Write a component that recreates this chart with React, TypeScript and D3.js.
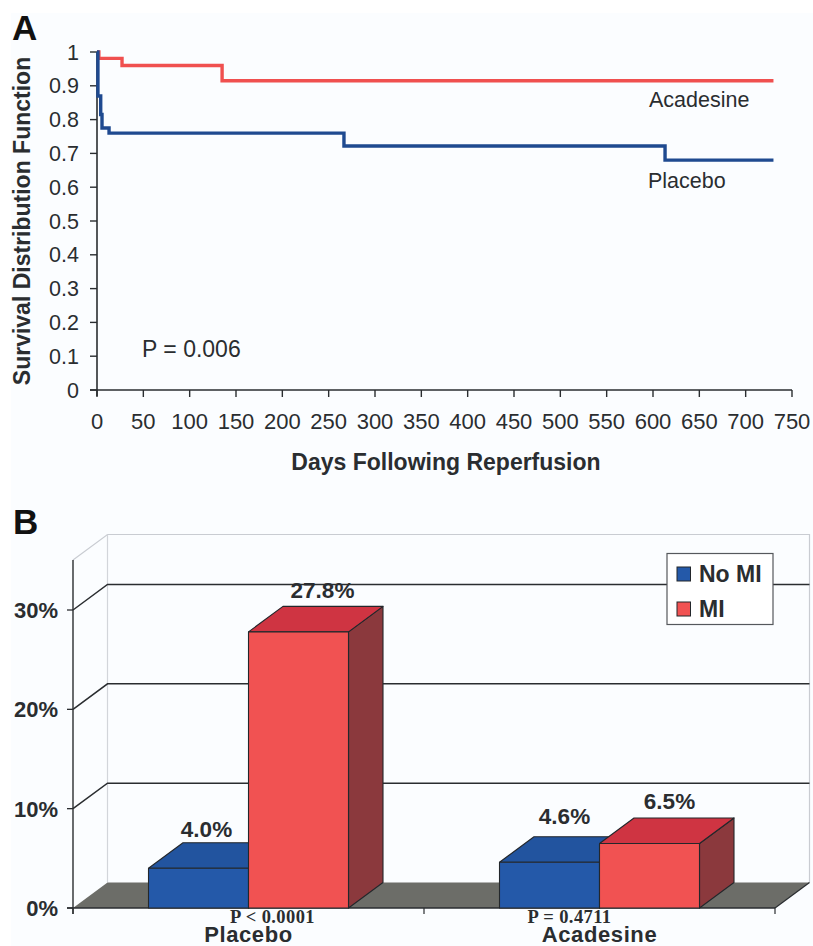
import * as d3 from 'd3'

// panel A: Kaplan-Meier steps, [day, survival]
const acadesineDays = [0, 2, 27, 135, 730]
const acadesineSurvival = [1, 0.981, 0.96, 0.915, 0.915]
const placeboDays = [0, 1, 4, 5.4, 13, 266.5, 613, 730]
const placeboSurvival = [1, 0.87, 0.815, 0.775, 0.76, 0.722, 0.68, 0.68]
const survivalTicks = [0, 0.1, 0.2, 0.3, 0.4, 0.5, 0.6, 0.7, 0.8, 0.9, 1]
const dayTicks = [0, 50, 100, 150, 200, 250, 300, 350, 400, 450, 500, 550, 600, 650, 700, 750]

// panel B: 3D bars
const groups = ['Placebo', 'Acadesine']
const seriesNames = ['No MI', 'MI']
const noMiValues = [4.0, 4.6]
const miValues = [27.8, 6.5]
const pLabels = ['P < 0.0001', 'P = 0.4711']
const percentTicks = [0, 10, 20, 30]

const SANS = '"Liberation Sans", Arial, sans-serif'
const SERIF = '"Liberation Serif", "Times New Roman", serif'
const INK = '#2a2d30'

const xA = d3.scaleLinear().domain([0, 750]).range([97, 792])
const yA = d3.scaleLinear().domain([0, 1]).range([390, 52])
const stepLine = d3
  .line<[number, number]>()
  .x(d => xA(d[0]))
  .y(d => yA(d[1]))
  .curve(d3.curveStepAfter)

const zip = (a: number[], b: number[]) => a.map((v, i) => [v, b[i]] as [number, number])

const yB = d3.scaleLinear().domain([0, 30]).range([908, 610])
const xGroup = d3.scaleBand().domain(groups).range([73, 775])
const xBar = d3
  .scaleBand()
  .domain(seriesNames)
  .range([0, xGroup.bandwidth()])
  .paddingInner(0)
  .paddingOuter(0.755)
const depthX = 34.5
const depthY = -25.5

// the labels were placed by hand in the original, so nudge them per group
const noMiNudge = [[8, -5.5], [15, -12.5]]
const miNudge = [[24, -8], [20, -8.5]]
const pNudge = [24, -30]

const palette: Record<string, { front: string; top: string; side: string }> = {
  'No MI': { front: '#2459a9', top: '#22549f', side: '#1e4688' },
  MI: { front: '#f15252', top: '#cf3442', side: '#8b393d' },
}

const poly = (pts: [number, number][]) => (d3.line()(pts) ?? '') + 'Z'

function Bar({ x, w, value, name }: { x: number; w: number; value: number; name: string }) {
  const y0 = yB(0)
  const y1 = yB(value)
  const c = palette[name]
  return (
    <g stroke="#23272b" strokeWidth={1.1} strokeLinejoin="round">
      <path
        d={poly([[x + w, y1], [x + w + depthX, y1 + depthY], [x + w + depthX, y0 + depthY], [x + w, y0]])}
        fill={c.side}
      />
      <path
        d={poly([[x, y1], [x + depthX, y1 + depthY], [x + w + depthX, y1 + depthY], [x + w, y1]])}
        fill={c.top}
      />
      <rect x={x} y={y1} width={w} height={y0 - y1} fill={c.front} />
    </g>
  )
}

export default function App() {
  const floorY = yB(0)
  const left = xGroup.range()[0]
  const right = xGroup.range()[1]
  const midTick = xGroup('Acadesine') as number
  const w = xBar.bandwidth()

  return (
    <svg
      width={813}
      height={946}
      style={{ position: 'absolute', left: 0, top: 0, display: 'block', background: '#fff' }}
    >
      <rect x={11} y={13} width={802} height={933} fill="#fbfdff" />

      {/* panel A */}
      <text x={12} y={40} fontFamily={SANS} fontWeight="bold" fontSize={35} fill="#111">A</text>
      <line x1={xA(0)} x2={xA(0)} y1={yA(1)} y2={yA(0) + 6} stroke={INK} strokeWidth={1.6} />
      <line x1={xA(0) - 7} x2={xA(750)} y1={yA(0)} y2={yA(0)} stroke={INK} strokeWidth={1.6} />
      {survivalTicks.map(t => (
        <g key={t}>
          <line x1={xA(0) - 7} x2={xA(0)} y1={yA(t)} y2={yA(t)} stroke={INK} strokeWidth={1.4} />
          <text x={79} y={yA(t) + 7.5} textAnchor="end" fontFamily={SANS} fontSize={21.5} fill={INK}>{t}</text>
        </g>
      ))}
      {dayTicks.map(t => (
        <g key={t}>
          <line x1={xA(t)} x2={xA(t)} y1={yA(0)} y2={yA(0) + 7} stroke={INK} strokeWidth={1.4} />
          <text x={xA(t)} y={429} textAnchor="middle" fontFamily={SANS} fontSize={22} fill={INK}>{t}</text>
        </g>
      ))}
      <text
        transform="translate(30,221) rotate(-90)"
        textAnchor="middle"
        fontFamily={SANS}
        fontWeight="bold"
        fontSize={23}
        fill={INK}
      >
        Survival Distribution Function
      </text>
      <text x={446} y={470} textAnchor="middle" fontFamily={SANS} fontWeight="bold" fontSize={23} fill={INK}>
        Days Following Reperfusion
      </text>
      <path d={stepLine(zip(acadesineDays, acadesineSurvival)) ?? ''} fill="none" stroke="#f0504f" strokeWidth={3.4} />
      <path d={stepLine(zip(placeboDays, placeboSurvival)) ?? ''} fill="none" stroke="#1f4a90" strokeWidth={3.4} />
      <text x={649} y={107} fontFamily={SANS} fontSize={21.5} fill={INK}>Acadesine</text>
      <text x={648} y={188} fontFamily={SANS} fontSize={21.5} fill={INK}>Placebo</text>
      <text x={142} y={357} fontFamily={SANS} fontSize={23} fill={INK}>P = 0.006</text>

      {/* panel B */}
      <text x={13} y={534} fontFamily={SANS} fontWeight="bold" fontSize={35} fill="#111">B</text>

      {/* walls */}
      <path
        d={`M${left},${yB(30) - 50}L${left + depthX},${yB(30) - 50 + depthY}H${right + depthX}V${floorY + depthY}`}
        fill="none"
        stroke="#c9ccd2"
        strokeWidth={1.2}
      />
      <line
        x1={left + depthX}
        x2={left + depthX}
        y1={yB(30) - 50 + depthY}
        y2={floorY + depthY}
        stroke="#d2d5da"
        strokeWidth={1.2}
      />
      <path
        d={poly([[left, floorY], [left + depthX, floorY + depthY], [right + depthX, floorY + depthY], [right, floorY]])}
        fill="#6c6d68"
      />
      {percentTicks.filter(t => t > 0).map(t => (
        <path
          key={t}
          d={`M${left},${yB(t)}L${left + depthX},${yB(t) + depthY}H${right + depthX}`}
          fill="none"
          stroke={INK}
          strokeWidth={1.5}
        />
      ))}
      <line x1={left} x2={left} y1={yB(30) - 50} y2={floorY + 6} stroke={INK} strokeWidth={1.4} />
      <line x1={left - 6} x2={right} y1={floorY} y2={floorY} stroke={INK} strokeWidth={1.4} />
      <line x1={right} x2={right + depthX} y1={floorY} y2={floorY + depthY} stroke={INK} strokeWidth={1.2} />
      {[left, midTick, right].map(x => (
        <line key={x} x1={x} x2={x} y1={floorY} y2={floorY + 6} stroke={INK} strokeWidth={1.2} />
      ))}
      {percentTicks.map(t => (
        <g key={t}>
          <line x1={left - 6} x2={left} y1={yB(t)} y2={yB(t)} stroke={INK} strokeWidth={1.3} />
          <text x={58} y={yB(t) + 8} textAnchor="end" fontFamily={SANS} fontWeight="bold" fontSize={22} fill={INK}>
            {t}%
          </text>
        </g>
      ))}

      {/* bars, No MI first so the MI bar overlaps its side */}
      {groups.map((g, i) => {
        const gx = xGroup(g) as number
        const noX = gx + (xBar('No MI') as number)
        const miX = gx + (xBar('MI') as number)
        const centre = gx + xGroup.bandwidth() / 2
        return (
          <g key={g}>
            <Bar x={noX} w={w} value={noMiValues[i]} name="No MI" />
            <Bar x={miX} w={w} value={miValues[i]} name="MI" />
            <text
              x={noX + w / 2 + noMiNudge[i][0]}
              y={yB(noMiValues[i]) + depthY + noMiNudge[i][1]}
              textAnchor="middle"
              fontFamily={SANS}
              fontWeight="bold"
              fontSize={22.5}
              fill={INK}
            >
              {noMiValues[i].toFixed(1)}%
            </text>
            <text
              x={miX + w / 2 + miNudge[i][0]}
              y={yB(miValues[i]) + depthY + miNudge[i][1]}
              textAnchor="middle"
              fontFamily={SANS}
              fontWeight="bold"
              fontSize={22.5}
              fill={INK}
            >
              {miValues[i].toFixed(1)}%
            </text>
            <text
              x={centre + pNudge[i]}
              y={923}
              textAnchor="middle"
              fontFamily={SERIF}
              fontWeight="bold"
              fontSize={18.5}
              letterSpacing={0.4}
              fill={INK}
            >
              {pLabels[i]}
            </text>
            <text
              x={centre}
              y={941.5}
              textAnchor="middle"
              fontFamily={SANS}
              fontWeight="bold"
              fontSize={22}
              letterSpacing={0.6}
              fill={INK}
            >
              {g}
            </text>
          </g>
        )
      })}

      {/* legend */}
      <rect x={667} y={553.5} width={106} height={71} fill="#fff" stroke="#55585c" strokeWidth={1.2} />
      {seriesNames.map((name, i) => (
        <g key={name}>
          <rect
            x={677}
            y={567 + i * 35}
            width={13.5}
            height={14}
            fill={palette[name].front}
            stroke="#23272b"
            strokeWidth={1}
          />
          <text x={699} y={582 + i * 35} fontFamily={SANS} fontWeight="bold" fontSize={23} fill={INK}>
            {name}
          </text>
        </g>
      ))}
    </svg>
  )
}
